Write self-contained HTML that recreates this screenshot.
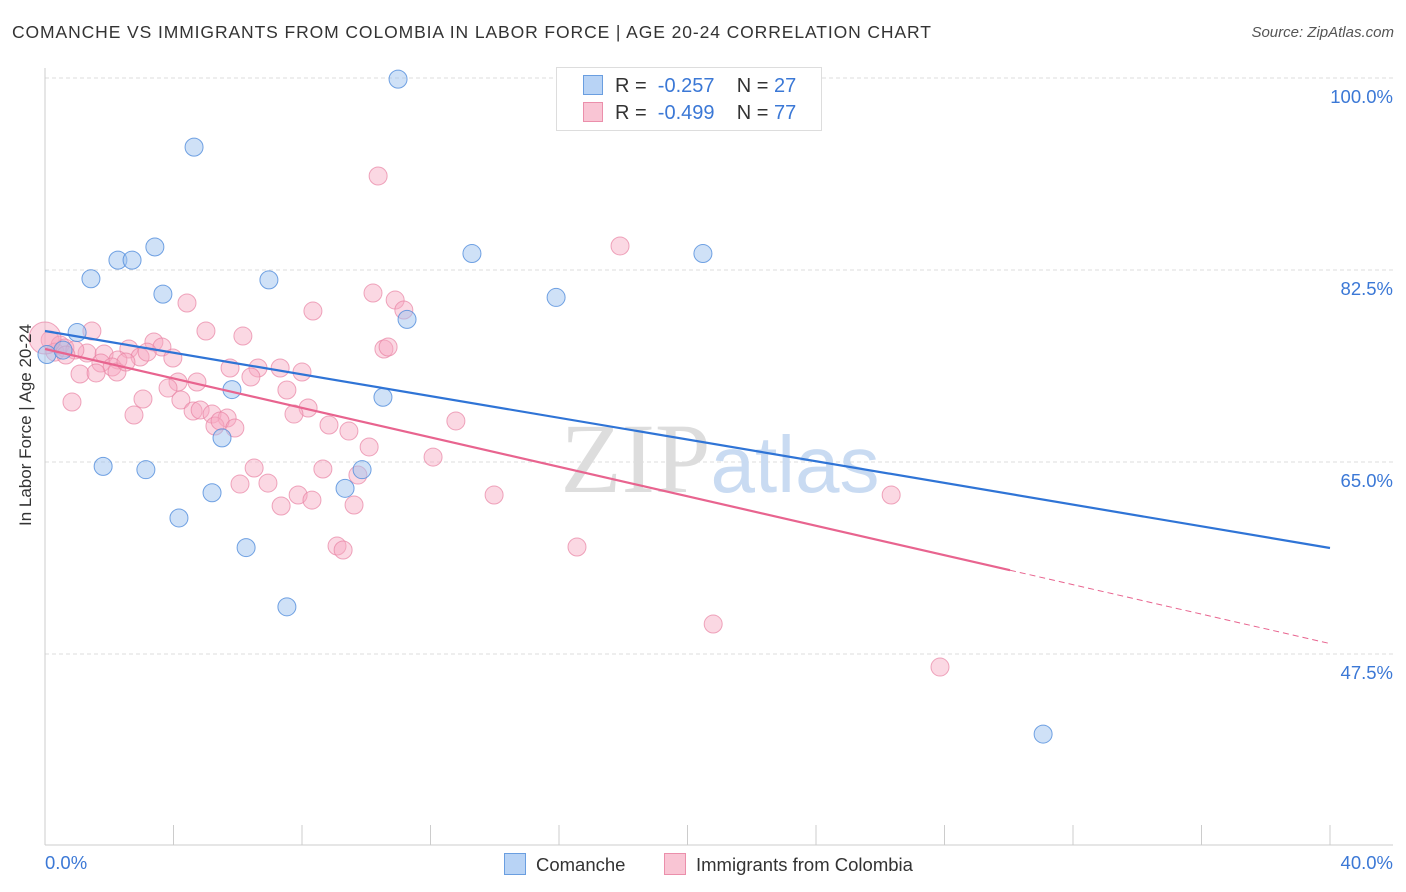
<!DOCTYPE html>
<html><head><meta charset="utf-8"><style>
body{margin:0;background:#fff;font-family:"Liberation Sans",sans-serif}
#wrap{position:relative;width:1406px;height:892px;overflow:hidden}
.t{position:absolute;white-space:nowrap}
</style></head><body>
<div id="wrap">
<div class="t" style="left:12px;top:22px;font-size:17.5px;letter-spacing:0.9px;color:#333">COMANCHE VS IMMIGRANTS FROM COLOMBIA IN LABOR FORCE | AGE 20-24 CORRELATION CHART</div>
<div class="t" style="right:12px;top:24px;font-size:15px;color:#555;font-style:italic">Source: ZipAtlas.com</div>
<svg id="svg" width="1406" height="892" style="position:absolute;left:0;top:0"></svg>
</div>
<script>
const yTicks=[100,82.5,65,47.5];
const yTickLabels=["100.0%","82.5%","65.0%","47.5%"];
const xTickLabels=["0.0%","40.0%"];
const blueX=[10.99,4.64,3.42,2.27,2.71,1.43,3.67,6.97,13.29,20.48,15.91,11.27,1.0,0.06,0.56,5.82,10.52,5.51,1.81,3.14,5.2,9.87,9.34,4.17,6.26,7.53,31.07];
const blueY=[99.9,93.7,84.6,83.4,83.4,81.7,80.3,81.6,84.0,84.0,80.0,78.0,76.8,74.8,75.2,71.6,70.9,67.2,64.6,64.3,62.2,64.3,62.6,59.9,57.2,51.8,40.2];
const pinkX=[10.37,17.90,10.21,4.42,10.90,11.17,8.34,1.46,5.01,6.16,3.39,2.61,3.64,10.55,10.68,0.16,0.47,1.31,1.84,2.27,2.96,3.98,1.74,2.09,1.09,1.59,2.24,6.63,7.32,8.00,5.76,6.41,4.14,4.73,3.83,7.53,3.05,4.23,0.84,2.77,4.61,4.83,5.20,5.67,8.19,7.75,5.29,5.45,5.91,8.84,9.46,12.79,10.09,12.08,6.51,8.65,9.74,6.07,6.94,7.88,8.31,7.35,9.62,13.98,26.34,9.09,9.28,16.56,20.80,27.86,0.31,0.62,0.93,0.0,3.18,2.52,0.65];
const pinkY=[91.07,84.69,80.40,79.49,79.76,78.85,78.76,76.94,76.94,76.48,75.94,75.30,75.48,75.30,75.48,76.12,75.66,74.93,74.84,74.30,74.57,74.48,74.02,73.66,73.02,73.11,73.20,73.57,73.57,73.20,73.57,72.75,72.29,72.29,71.74,71.56,70.74,70.65,70.47,69.28,69.65,69.74,69.37,69.01,69.92,69.37,68.28,68.74,68.10,68.37,67.82,68.74,66.37,65.45,64.45,64.36,63.81,62.99,63.08,61.99,61.53,60.99,61.08,61.99,61.99,57.34,56.98,57.25,50.23,46.31,75.02,75.39,75.21,76.3,75.02,74.11,74.75];
const blueLine=[76.94,57.16];
const pinkLine=[75.30,48.45];
const pinkSolidEnd=30.04;
const X=v=>45+v/40*1285, Y=v=>78+(100-v)/17.5*192;
const svg=document.getElementById('svg'),NS='http://www.w3.org/2000/svg';
function mk(tag,attrs,name){const e=document.createElementNS(NS,tag);for(const k in attrs)e.setAttribute(k,attrs[k]);


svg.appendChild(e);return e;}
yTicks.forEach((t,i)=>{mk('line',{x1:45,x2:1393,y1:Y(t),y2:Y(t),stroke:'#ddd','stroke-dasharray':'4,3'},'gridline');
const tx=mk('text',{x:1393,y:Y(t)+25,'text-anchor':'end','font-size':18.5,fill:'#3b78d6','font-family':'Liberation Sans'},'y-tick-label');tx.textContent=yTickLabels[i];});
mk('line',{x1:45,x2:45,y1:68,y2:845,stroke:'#ccc'},'y-axis');
mk('line',{x1:45,x2:1393,y1:845,y2:845,stroke:'#ccc'},'x-axis');
for(let i=1;i<=10;i++)mk('line',{x1:X(i*4),x2:X(i*4),y1:825,y2:845,stroke:'#ccc'},'x-tick');
let w=mk('text',{x:720,y:492,'text-anchor':'middle','font-size':100,fill:'#ddd','font-family':'Liberation Serif'},'watermark');w.innerHTML='ZIP<tspan font-family="Liberation Sans" font-size="80" fill="#c9dbf2">atlas</tspan>';
pinkX.forEach((x,i)=>mk('circle',{cx:X(x),cy:Y(pinkY[i]),r:i==73?16:9,fill:'rgba(246,168,192,0.45)',stroke:'rgba(232,130,162,0.7)','stroke-width':1},'colombia-point'));
blueX.forEach((x,i)=>mk('circle',{cx:X(x),cy:Y(blueY[i]),r:9,fill:'rgba(160,196,240,0.5)',stroke:'rgba(80,140,220,0.8)','stroke-width':1},'comanche-point'));
mk('line',{x1:X(0),y1:Y(blueLine[0]),x2:X(40),y2:Y(blueLine[1]),stroke:'#2f74d6','stroke-width':2.2},'comanche-trendline');
const py=v=>pinkLine[0]+(pinkLine[1]-pinkLine[0])*v/40;
mk('line',{x1:X(0),y1:Y(py(0)),x2:X(pinkSolidEnd),y2:Y(py(pinkSolidEnd)),stroke:'#e8648f','stroke-width':2.2},'colombia-trendline');
mk('line',{x1:X(pinkSolidEnd),y1:Y(py(pinkSolidEnd)),x2:X(40),y2:Y(py(40)),stroke:'#e8648f','stroke-width':1,'stroke-dasharray':'6,4'},'colombia-trendline-extension');
</script>
<div class="t" style="left:-44px;top:446px;font-size:17px;color:#333;transform:rotate(-90deg);transform-origin:center;width:140px;text-align:center">In Labor Force | Age 20-24</div>
<div class="t" style="left:45px;top:852px;font-size:18.5px;color:#3b78d6">0.0%</div>
<div class="t" style="right:13px;top:852px;font-size:18.5px;color:#3b78d6">40.0%</div>
<div style="position:absolute;left:556px;top:67px;width:264px;height:62px;border:1px solid #ddd;background:#fff;font-size:20px;color:#333">
 <div class="t" style="left:26px;top:7px"><span style="display:inline-block;width:18px;height:18px;background:#b8d3f5;border:1px solid #6a9ee0;vertical-align:-3px;margin-right:12px"></span>R = <span style="color:#3b78d6">&nbsp;-0.257</span>&nbsp;&nbsp;&nbsp; N = <span style="color:#3b78d6">27</span></div>
 <div class="t" style="left:26px;top:34px"><span style="display:inline-block;width:18px;height:18px;background:#f9c5d4;border:1px solid #eb8fab;vertical-align:-3px;margin-right:12px"></span>R = <span style="color:#3b78d6">&nbsp;-0.499</span>&nbsp;&nbsp;&nbsp; N = <span style="color:#3b78d6">77</span></div>
</div>
<div class="t" style="left:504px;top:853px;font-size:18.5px;color:#333"><span style="display:inline-block;width:20px;height:20px;background:#b8d3f5;border:1px solid #6a9ee0;vertical-align:-4px;margin-right:10px"></span>Comanche</div>
<div class="t" style="left:664px;top:853px;font-size:18.5px;color:#333"><span style="display:inline-block;width:20px;height:20px;background:#f9c5d4;border:1px solid #eb8fab;vertical-align:-4px;margin-right:10px"></span>Immigrants from Colombia</div>
</body></html>
